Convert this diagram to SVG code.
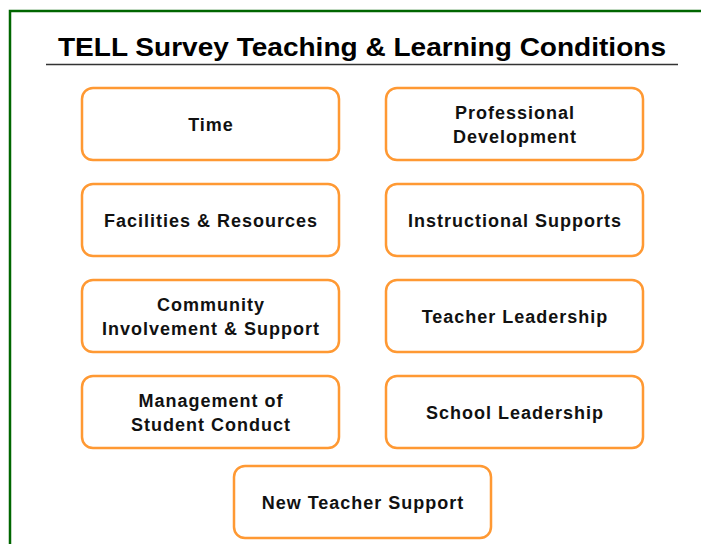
<svg xmlns="http://www.w3.org/2000/svg" width="701" height="544" viewBox="0 0 701 544">
<style>
.box{fill:#fff;stroke:#FF9933;stroke-width:2.5}
.t{font-family:"Liberation Sans",Arial,sans-serif;font-weight:bold;font-size:18px;letter-spacing:1px;fill:#111;text-anchor:middle}
</style>
<rect x="0" y="0" width="701" height="544" fill="#fff"/>
<path d="M10 544 V11 H701" fill="none" stroke="#006600" stroke-width="2.5"/>
<g id="title">
<text x="362" y="56" font-family="Liberation Sans, Arial, sans-serif" font-weight="bold" font-size="26" text-anchor="middle" textLength="608" lengthAdjust="spacingAndGlyphs" fill="#000">TELL Survey Teaching &amp; Learning Conditions</text>
<line x1="46" y1="64.5" x2="678" y2="64.5" stroke="#333" stroke-width="1.5"/>
</g>
<g id="time"><rect class="box" x="82" y="88" width="257" height="72" rx="11"/><text class="t" x="211" y="131">Time</text></g>
<g id="pd"><rect class="box" x="386" y="88" width="257" height="72" rx="11"/><text class="t" x="515" y="119">Professional</text><text class="t" x="515" y="143">Development</text></g>
<g id="facilities"><rect class="box" x="82" y="184" width="257" height="72" rx="11"/><text class="t" x="211" y="227">Facilities &amp; Resources</text></g>
<g id="instructional"><rect class="box" x="386" y="184" width="257" height="72" rx="11"/><text class="t" x="515" y="227">Instructional Supports</text></g>
<g id="community"><rect class="box" x="82" y="280" width="257" height="72" rx="11"/><text class="t" x="211" y="311">Community</text><text class="t" x="211" y="335">Involvement &amp; Support</text></g>
<g id="teacherleadership"><rect class="box" x="386" y="280" width="257" height="72" rx="11"/><text class="t" x="515" y="323">Teacher Leadership</text></g>
<g id="management"><rect class="box" x="82" y="376" width="257" height="72" rx="11"/><text class="t" x="211" y="407">Management of</text><text class="t" x="211" y="431">Student Conduct</text></g>
<g id="schoolleadership"><rect class="box" x="386" y="376" width="257" height="72" rx="11"/><text class="t" x="515" y="419">School Leadership</text></g>
<g id="newteacher"><rect class="box" x="234" y="466" width="257" height="72" rx="11"/><text class="t" x="363" y="509">New Teacher Support</text></g>
<g id="connectors"></g>
</svg>
